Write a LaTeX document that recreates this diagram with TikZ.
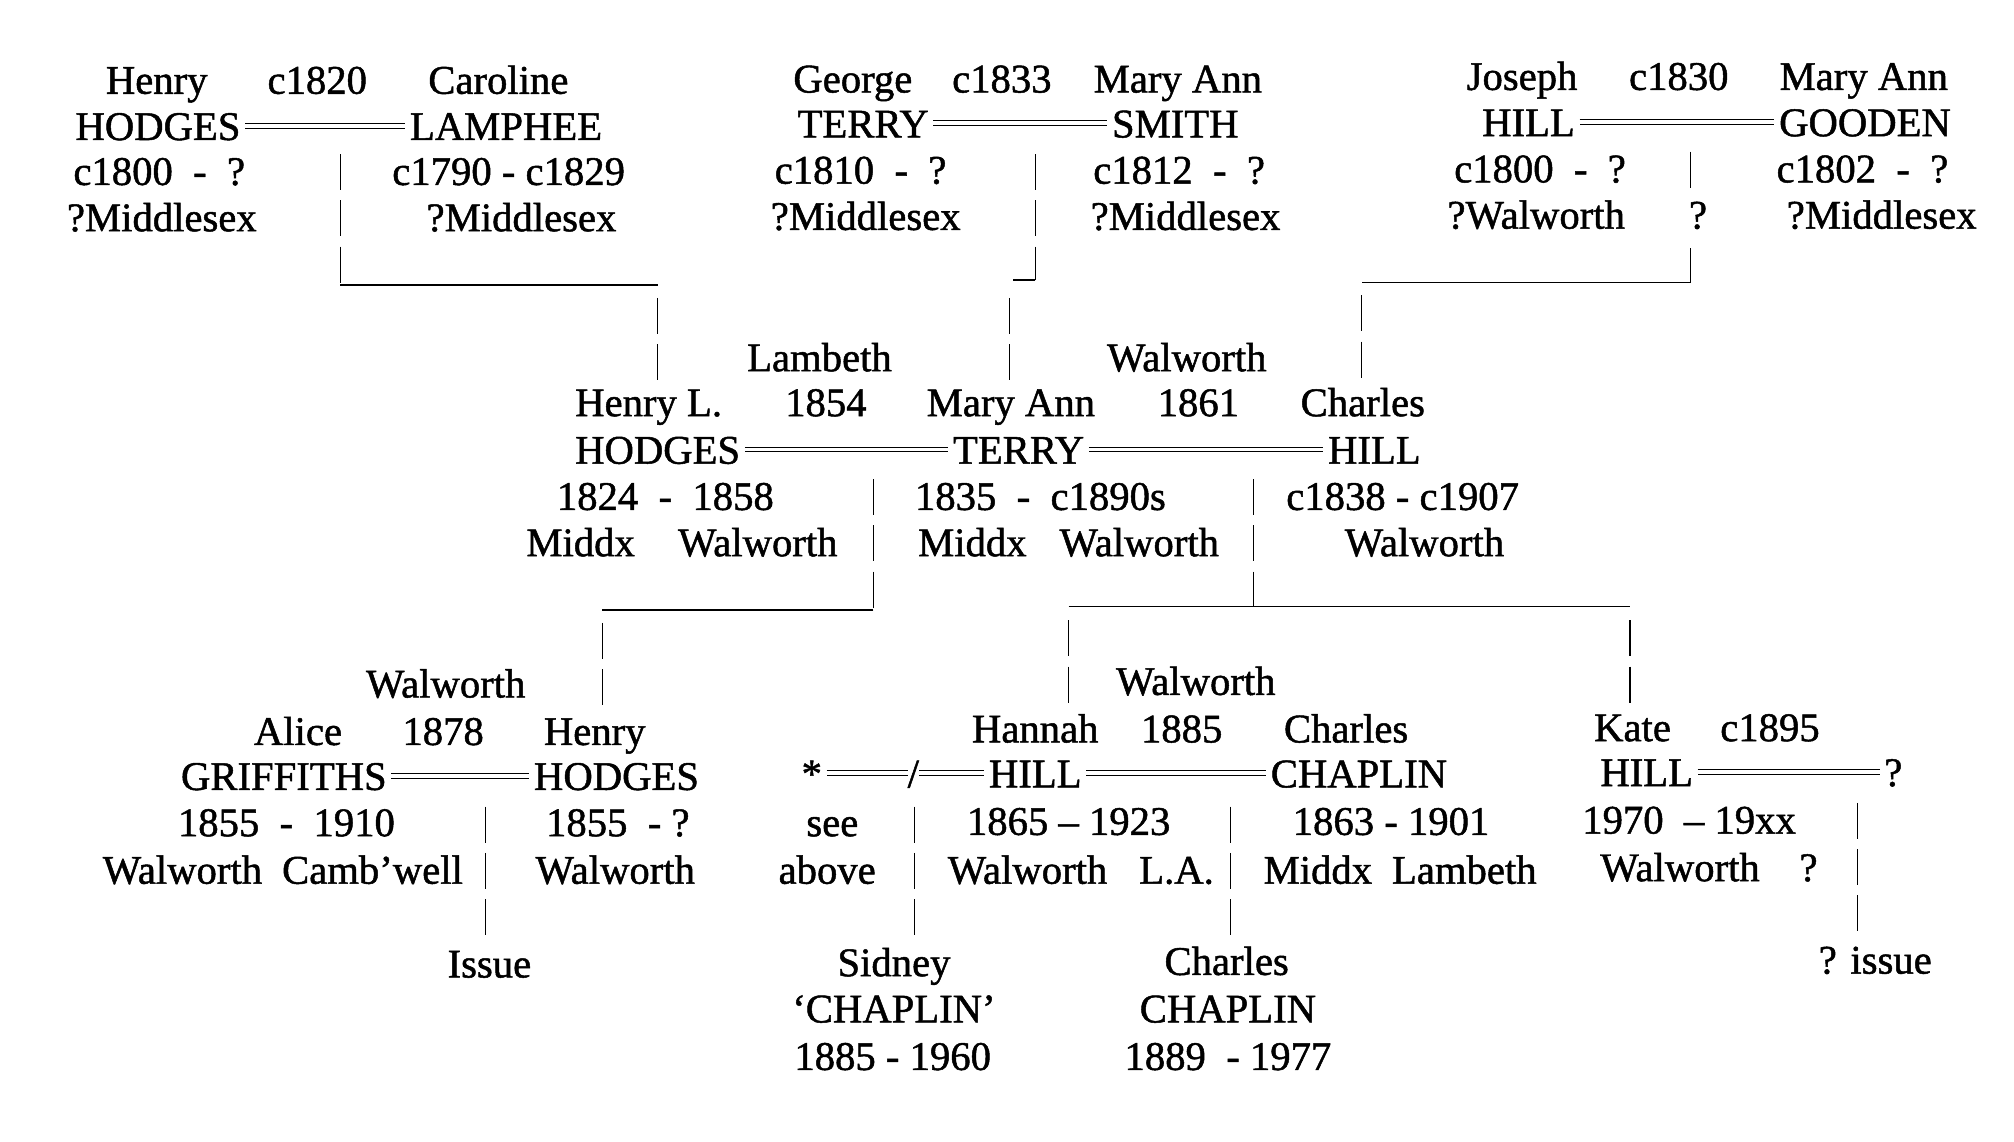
\documentclass[tikz,border=0pt]{standalone}
\usepackage{fontspec}
\setmainfont{Liberation Serif}[FakeBold=1.2]
\begin{document}
\begin{tikzpicture}[x=0.6pt,y=-0.6pt,
  every node/.style={anchor=base,inner sep=2pt,text height=13.3pt,text depth=0pt,
    font=\fontsize{19}{21}\selectfont},
  wed/.style={double,double distance=1.8pt,line width=0.45pt},
  bar/.style={line width=0.7pt,dash pattern=on 16.8pt off 4.8pt},
  rule/.style={line width=0.7pt}]
\useasboundingbox (0,0) rectangle (1568,889);

% Henry HODGES = Caroline LAMPHEE
\node (henryA) at (122,73) {Henry};
\node (yearA) at (247,73) {c1820};
\node (carolineA) at (388,73) {Caroline};
\node (hodgesA) at (123,109) {HODGES};
\node (lampheeA) at (394,109) {LAMPHEE};
\node (lifeA1) at (124,144) {c1800 \ - \ ?};
\node (lifeA2) at (396,144) {c1790 - c1829};
\node (placeA1) at (126,180) {?Middlesex};
\node (placeA2) at (406,180) {?Middlesex};
\draw[wed] (hodgesA) -- (lampheeA);

% George TERRY = Mary Ann SMITH
\node (georgeB) at (664,72) {George};
\node (yearB) at (780,72) {c1833};
\node (maryB) at (917,72) {Mary Ann};
\node (terryB) at (672,107) {TERRY};
\node (smithB) at (915,107) {SMITH};
\node (lifeB1) at (670,143) {c1810 \ - \ ?};
\node (lifeB2) at (918,143) {c1812 \ - \ ?};
\node (placeB1) at (674,179) {?Middlesex};
\node (placeB2) at (923,179) {?Middlesex};
\draw[wed] (terryB) -- (smithB);

% Joseph HILL = Mary Ann GOODEN
\node (josephC) at (1185,70) {Joseph};
\node (yearC) at (1307,70) {c1830};
\node (maryC) at (1451,70) {Mary Ann};
\node (hillC) at (1190,106) {HILL};
\node (goodenC) at (1452,106) {GOODEN};
\node (lifeC1) at (1199,142) {c1800 \ - \ ?};
\node (lifeC2) at (1450,142) {c1802 \ - \ ?};
\node (placeC1) at (1196,178) {?Walworth};
\node (placeCq) at (1322,178) {?};
\node (placeC2) at (1465,178) {?Middlesex};
\draw[wed] (hillC) -- (goodenC);

% Henry L. HODGES = Mary Ann TERRY = Charles HILL
\node (lambeth) at (638,289) {Lambeth};
\node (walworthM) at (924,289) {Walworth};
\node (henryL) at (505,324) {Henry L.};
\node (yearL) at (643,324) {1854};
\node (maryT) at (787,324) {Mary Ann};
\node (yearH) at (933,324) {1861};
\node (charlesH) at (1061,324) {Charles};
\node (hodgesL) at (512,361) {HODGES};
\node (terryM) at (793,361) {TERRY};
\node (hillH) at (1070,361) {HILL};
\node (lifeL) at (518,397) {1824 \ - \ 1858};
\node (lifeM) at (810,397) {1835 \ - \ c1890s};
\node (lifeH) at (1092,397) {c1838 - c1907};
\node (middxL) at (452,433) {Middx};
\node (walL) at (590,433) {Walworth};
\node (middxM) at (757,433) {Middx};
\node (walM) at (887,433) {Walworth};
\node (walH) at (1109,433) {Walworth};
\draw[wed] (hodgesL) -- (terryM);
\draw[wed] (terryM) -- (hillH);

% Alice GRIFFITHS = Henry HODGES
\node (walG) at (347,543) {Walworth};
\node (alice) at (232,580) {Alice};
\node (yearG) at (345,580) {1878};
\node (henryG) at (463,580) {Henry};
\node (griffiths) at (221,615) {GRIFFITHS};
\node (hodgesG) at (480,615) {HODGES};
\node (lifeAl) at (223,651) {1855 \ - \ 1910};
\node (lifeHG) at (481,651) {1855 \ - ?};
\node (walAl) at (142,688) {Walworth};
\node (cambAl) at (290,688) {Camb’well};
\node (walHG) at (479,688) {Walworth};
\node (issueG) at (381,761) {Issue};
\draw[wed] (griffiths) -- (hodgesG);

% Hannah HILL = Charles CHAPLIN
\node (walHC) at (931,541) {Walworth};
\node (hannah) at (806,578) {Hannah};
\node (yearHC) at (920,578) {1885};
\node (charlesC) at (1048,578) {Charles};
\node (star) at (632,613) {*};
\node (hillHa) at (806,613) {HILL};
\node (chaplinC) at (1058,613) {CHAPLIN};
\node (see) at (648,651) {see};
\node (lifeHa) at (832,650) {1865 – 1923};
\node (lifeCC) at (1083,650) {1863 - 1901};
\node (above) at (644,688) {above};
\node (walHa) at (800,688) {Walworth};
\node (laHa) at (916,688) {L.A.};
\node (middxCC) at (1026,688) {Middx};
\node (lambCC) at (1140,688) {Lambeth};
\draw[wed] (star) -- node[pos=0.55,anchor=center,fill=white,inner sep=0pt]{/} (hillHa);
\draw[wed] (hillHa) -- (chaplinC);

\node (sidney) at (696,760) {Sidney};
\node (sidneyS) at (696,796) {‘CHAPLIN’};
\node (sidneyL) at (695,833) {1885 - 1960};
\node (charlie) at (955,759) {Charles};
\node (charlieS) at (956,796) {CHAPLIN};
\node (charlieL) at (956,833) {1889 \ - 1977};

% Kate HILL = ?
\node (kate) at (1271,577) {Kate};
\node (yearK) at (1378,577) {c1895};
\node (hillK) at (1282,612) {HILL};
\node (spouseK) at (1474,612) {?};
\node (lifeK) at (1315,649) {1970 \ – 19xx};
\node (walK) at (1308,686) {Walworth};
\node (qK) at (1408,686) {?};
\node (issueK) at (1460,758) {? issue};
\draw[wed] (hillK) -- (spouseK);

% lines of descent
\coordinate (dropA) at (265,120);
\coordinate (kneeA) at (265,222);
\coordinate (elbowA) at (512,222);
\draw[bar] (dropA) -- (kneeA);
\draw[rule] (kneeA) -- (elbowA);
\draw[bar] ([yshift=-6pt]elbowA) -- (henryL.north -| elbowA);

\coordinate (dropB) at (806,120);
\coordinate (kneeB) at (806,218);
\coordinate (elbowB) at (786,222);
\draw[bar] (dropB) -- (kneeB);
\draw[rule] (kneeB) -- ++(-17,0);
\draw[bar] ([yshift=-6pt]elbowB) -- (maryT.north -| elbowB);

\coordinate (dropC) at (1316,118);
\coordinate (kneeC) at (1316,220);
\coordinate (elbowC) at (1060,220);
\draw[rule] (dropC) -- ++(0,28);
\draw[rule] ([yshift=16pt]kneeC) -- (kneeC) -- (elbowC);
\draw[bar] ([yshift=-6pt]elbowC) -- (charlesH.north -| elbowC);

\coordinate (dropD) at (680,373);
\coordinate (kneeD) at (680,475);
\coordinate (elbowD) at (469,475);
\draw[bar] (dropD) -- (kneeD);
\draw[rule] (kneeD) -- (elbowD);
\draw[bar] ([yshift=-6pt]elbowD) -- (henryG.north -| elbowD);

\coordinate (dropE) at (976,373);
\coordinate (kneeE) at (976,472);
\coordinate (elbowE) at (832,472);
\coordinate (elbowF) at (1269,472);
\draw[bar] (dropE) -- (kneeE);
\draw[rule] (elbowE) -- (elbowF);
\draw[bar] ([yshift=-6.6pt]elbowE) -- (hannah.north -| elbowE);
\draw[bar] ([yshift=-6.6pt]elbowF) -- (kate.north -| elbowF);

\coordinate (dropG) at (378,628);
\coordinate (dropH) at (712,628);
\coordinate (dropI) at (958,628);
\coordinate (dropJ) at (1446,625);
\draw[bar] (dropG) -- (issueG.north -| dropG);
\draw[bar] (dropH) -- (sidney.north -| dropH);
\draw[bar] (dropI) -- (charlie.north -| dropI);
\draw[bar] (dropJ) -- (issueK.north -| dropJ);
\end{tikzpicture}
\end{document}
